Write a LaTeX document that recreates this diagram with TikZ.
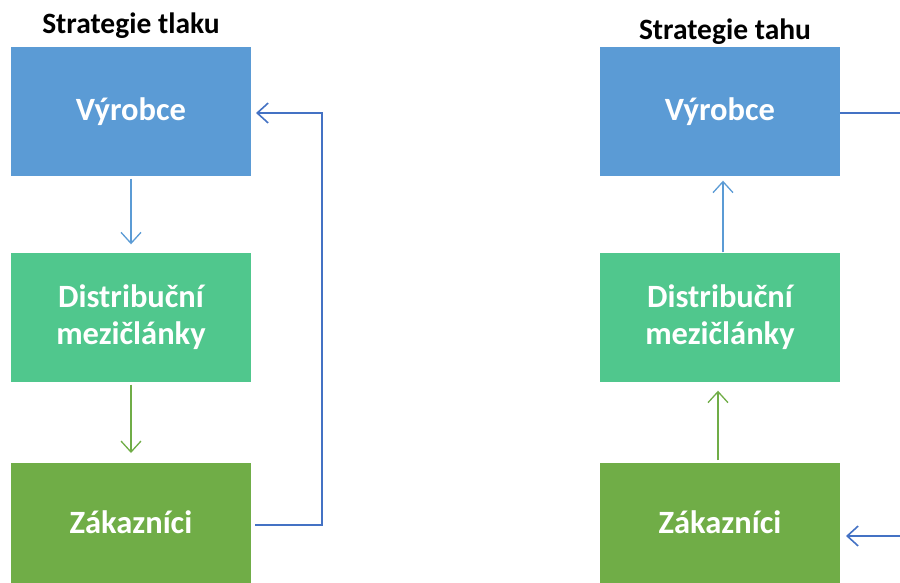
\documentclass[tikz,border=0pt]{standalone}
\usepackage{fontspec}
\setmainfont{Carlito}
\usetikzlibrary{arrows.meta}
\definecolor{cblue}{HTML}{5B9BD5}
\definecolor{cteal}{HTML}{50C78D}
\definecolor{cgreen}{HTML}{70AD47}
\definecolor{cdark}{HTML}{4472C4}
\begin{document}
\begin{tikzpicture}[x=1pt,y=-1pt,
  box/.style={minimum width=240pt,minimum height=129pt,inner sep=0pt,text=white,
    font=\fontsize{32.5}{37}\selectfont\bfseries,align=center},
  ttl/.style={font=\fontsize{29.5}{32}\selectfont\bfseries,text=black,inner sep=0pt,anchor=base},
  thin/.style={line width=1.3pt,-{Straight Barb[length=11pt,width=20pt,line width=1.3pt]}},
  fb/.style={line width=2.6pt,cdark},
  fbarrow/.style={line width=1.6pt,cdark,-{Straight Barb[length=11pt,width=20pt,line width=1.6pt]}}]
\useasboundingbox (0,0) rectangle (900,583);
% left column
\node[box,fill=cblue] (v1) at (131,112) {Výrobce};
\node[box,fill=cteal] (d1) at (131,317) {Distribuční\\mezičlánky};
\node[box,fill=cgreen,anchor=north,minimum height=140pt] (z1) at (131,463) {};
\node[box] (z1t) at (131,522) {Zákazníci};
\node[ttl] (t1) at (131,34) {Strategie tlaku};
% right column
\node[box,fill=cblue] (v2) at (720,112) {Výrobce};
\node[box,fill=cteal] (d2) at (720,317) {Distribuční\\mezičlánky};
\node[box,fill=cgreen,anchor=north,minimum height=140pt] (z2) at (720,463) {};
\node[box] (z2t) at (720,522) {Zákazníci};
\node[ttl] (t2) at (725,40) {Strategie tahu};
% left arrows
\draw[thin,cblue] ([yshift=-2pt]v1.south) -- ([yshift=8pt]d1.north);
\draw[thin,cgreen] ([yshift=-3pt]d1.south) -- ([yshift=10pt]z1.north);
\coordinate (c0) at (255,525);
\coordinate (c1) at (322,525);
\coordinate (c2) at (322,113);
\coordinate (c3) at (300,113);
\coordinate (c4) at (256,113);
\draw[fb] (c0) -- (c1) -- (c2) -- (c3);
\draw[fbarrow] (c3) -- (c4);
% right arrows
\draw[thin,cblue] ([xshift=3pt]d2.north) -- ([xshift=3pt,yshift=-4pt]v2.south);
\draw[thin,cgreen] ([xshift=-2pt,yshift=3pt]z2.north) -- ([xshift=-2pt,yshift=-9pt]d2.south);
\coordinate (e1) at (900,113);
\coordinate (e2) at (900,536);
\coordinate (e3) at (846,536);
\draw[line width=1.6pt,cdark] (v2.east |- e1) -- (e1);
\draw[fbarrow] (e2) -- (e3);
\end{tikzpicture}
\end{document}
